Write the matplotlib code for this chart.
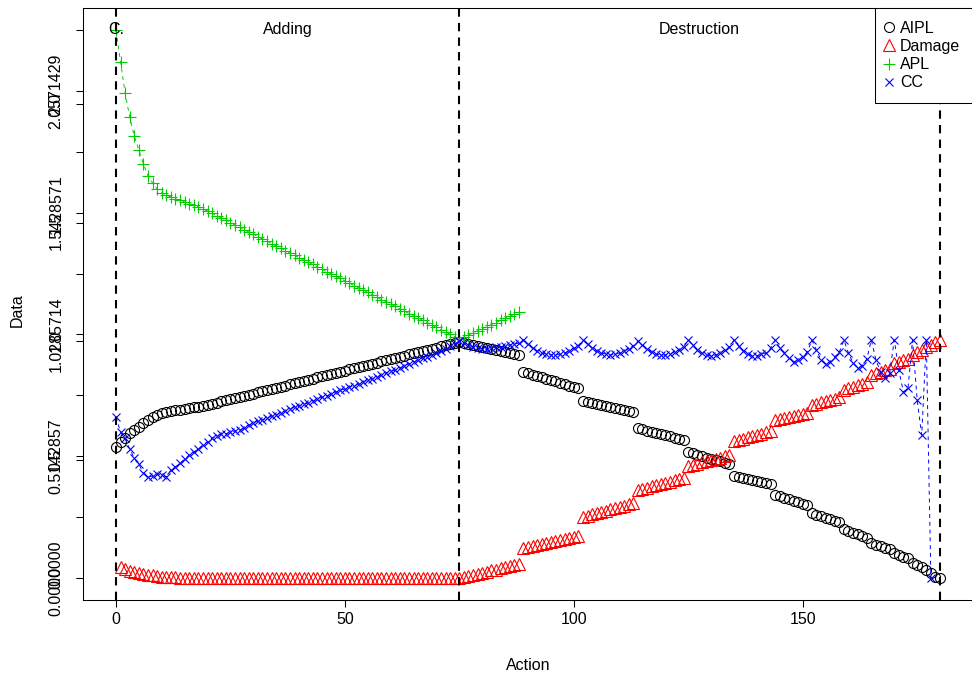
import numpy as np
import matplotlib
matplotlib.use('Agg')
import matplotlib.pyplot as plt
from matplotlib.lines import Line2D

plt.rcParams['font.family'] = ['Liberation Sans', 'DejaVu Sans']

nan = float('nan')

# AIPL, x = 0..180
aipl = [0.553, 0.574, 0.591, 0.612, 0.625, 0.638, 0.655, 0.667, 0.680,
        0.689, 0.697, 0.701, 0.704, 0.708, 0.711, 0.714, 0.718, 0.721, 0.724, 0.728, 0.731,
        0.736, 0.741, 0.746, 0.750, 0.755, 0.760, 0.765, 0.770, 0.775, 0.779,
        0.784, 0.789, 0.794, 0.799, 0.804, 0.808, 0.813, 0.818, 0.823, 0.828,
        0.833, 0.837, 0.842, 0.847, 0.852, 0.857, 0.862, 0.866, 0.871, 0.876,
        0.881, 0.886, 0.891, 0.895, 0.900, 0.905, 0.910, 0.915, 0.920, 0.924,
        0.929, 0.934, 0.939, 0.944, 0.949, 0.953, 0.958, 0.963, 0.968, 0.973,
        0.978, 0.982, 0.987, 0.992, 0.997,
        0.993, 0.988, 0.984, 0.980, 0.976, 0.972, 0.967, 0.963, 0.959, 0.955, 0.950, 0.946, 0.942,
        0.870, 0.864, 0.859, 0.853, 0.847, 0.842, 0.836, 0.830, 0.825, 0.819, 0.813, 0.808, 0.802,
        0.747, 0.743, 0.739, 0.735, 0.730, 0.726, 0.722, 0.718, 0.714, 0.709, 0.705, 0.701,
        0.633, 0.628, 0.623, 0.618, 0.613, 0.608, 0.603, 0.598, 0.593, 0.588, 0.583,
        0.532, 0.526, 0.521, 0.515, 0.509, 0.504, 0.498, 0.493, 0.487, 0.481,
        0.431, 0.427, 0.422, 0.418, 0.414, 0.410, 0.405, 0.401, 0.397,
        0.351, 0.345, 0.339, 0.333, 0.326, 0.320, 0.314, 0.308,
        0.274, 0.268, 0.262, 0.255, 0.249, 0.243, 0.236,
        0.207, 0.199, 0.192, 0.184, 0.177, 0.169,
        0.148, 0.141, 0.135, 0.128, 0.122,
        0.106, 0.099, 0.091, 0.084,
        0.063, 0.055, 0.046,
        0.034, 0.021,
        0.006, 0.000]

# Damage, x = 0..180 (no value at 0)
damage = [nan,
          0.046, 0.038, 0.030, 0.025, 0.021, 0.017, 0.013, 0.011, 0.008, 0.006, 0.005, 0.004, 0.003, 0.002,
          0.002, 0.001, 0.001, 0.001, 0.001, 0.001,
          0.0, 0.0, 0.0, 0.0, 0.0, 0.0, 0.0, 0.0, 0.0, 0.0, 0.0, 0.0, 0.0, 0.0, 0.0, 0.0, 0.0, 0.0,
          0.0, 0.0, 0.0, 0.0, 0.0, 0.0, 0.0, 0.0, 0.0, 0.0, 0.0, 0.0, 0.0, 0.0, 0.0, 0.0, 0.0, 0.0,
          0.0, 0.0, 0.0, 0.0, 0.0, 0.0, 0.0, 0.0, 0.0, 0.0, 0.0, 0.0, 0.0, 0.0, 0.0, 0.0, 0.0, 0.0,
          0.000, 0.005, 0.009, 0.014, 0.018, 0.023, 0.027, 0.032, 0.036, 0.041, 0.045, 0.050, 0.054, 0.059,
          0.127, 0.131, 0.135, 0.139, 0.144, 0.148, 0.152, 0.156, 0.160, 0.165, 0.169, 0.173, 0.177,
          0.258, 0.263, 0.269, 0.274, 0.279, 0.285, 0.290, 0.295, 0.301, 0.306, 0.312, 0.317,
          0.372, 0.377, 0.382, 0.387, 0.392, 0.397, 0.402, 0.407, 0.412, 0.417, 0.422,
          0.473, 0.478, 0.483, 0.488, 0.493, 0.499, 0.504, 0.509, 0.514, 0.519,
          0.579, 0.584, 0.589, 0.595, 0.600, 0.605, 0.610, 0.616, 0.621,
          0.667, 0.671, 0.676, 0.680, 0.684, 0.688, 0.693, 0.697,
          0.731, 0.736, 0.742, 0.747, 0.753, 0.758, 0.764,
          0.794, 0.801, 0.808, 0.814, 0.821, 0.828,
          0.857, 0.864, 0.870, 0.877, 0.883,
          0.908, 0.914, 0.919, 0.925,
          0.942, 0.953, 0.963,
          0.976, 0.984,
          0.997, 1.005]

# APL, x = 0..88
apl = [2.314, 2.179, 2.048, 1.947, 1.867, 1.807, 1.748, 1.698, 1.668, 1.643,
       1.626, 1.617, 1.609, 1.600, 1.596, 1.588, 1.579, 1.575, 1.567, 1.558, 1.550,
       1.540, 1.530, 1.520, 1.511, 1.501, 1.491, 1.481, 1.471, 1.461, 1.452,
       1.442, 1.432, 1.422, 1.412, 1.402, 1.393, 1.383, 1.373, 1.363, 1.353,
       1.343, 1.334, 1.324, 1.314, 1.304, 1.294, 1.284, 1.275, 1.265, 1.255,
       1.245, 1.235, 1.225, 1.216, 1.206, 1.196, 1.186, 1.176, 1.166, 1.157,
       1.147, 1.137, 1.127, 1.117, 1.107, 1.098, 1.088, 1.078, 1.068, 1.058,
       1.048, 1.039, 1.029, 1.019, 1.009,
       1.018, 1.027, 1.035, 1.044, 1.053, 1.062, 1.070, 1.079, 1.088, 1.097, 1.105, 1.114, 1.123]

# CC, x = 0..180 (none at 179, 180)
cc = [0.680, 0.617, 0.591, 0.545, 0.507, 0.481, 0.443, 0.427, 0.431, 0.440, 0.436,
      0.427, 0.456, 0.469, 0.485, 0.502, 0.519, 0.532, 0.545, 0.562, 0.574,
      0.591, 0.600, 0.608, 0.608, 0.617, 0.621, 0.625, 0.633, 0.646, 0.655,
      0.663, 0.667, 0.676, 0.684, 0.688, 0.697, 0.705, 0.714, 0.722, 0.726,
      0.735, 0.739, 0.747, 0.756, 0.764, 0.769, 0.777, 0.785, 0.794, 0.798,
      0.807, 0.811, 0.819, 0.828, 0.836, 0.840, 0.849, 0.857, 0.866, 0.874,
      0.878, 0.887, 0.895, 0.904, 0.912, 0.921, 0.929, 0.933, 0.942, 0.950,
      0.959, 0.967, 0.980, 0.988, 1.001,
      0.992, 0.984, 0.975, 0.971, 0.967, 0.967, 0.971, 0.975, 0.975, 0.980, 0.984, 0.988, 0.992,
      1.005, 0.988, 0.971, 0.959, 0.950, 0.946, 0.942, 0.942, 0.946, 0.950, 0.959, 0.971, 0.980,
      1.005, 0.988, 0.971, 0.959, 0.950, 0.946, 0.942, 0.946, 0.950, 0.959, 0.967, 0.980,
      1.001, 0.984, 0.967, 0.954, 0.946, 0.942, 0.942, 0.946, 0.954, 0.963, 0.975,
      1.005, 0.984, 0.963, 0.950, 0.942, 0.938, 0.942, 0.950, 0.963, 0.975,
      1.005, 0.980, 0.959, 0.946, 0.938, 0.938, 0.946, 0.950, 0.971,
      1.005, 0.971, 0.950, 0.929, 0.912, 0.921, 0.933, 0.954,
      1.005, 0.963, 0.921, 0.904, 0.912, 0.933, 0.954,
      1.005, 0.950, 0.908, 0.887, 0.895, 0.925,
      1.005, 0.921, 0.870, 0.845, 0.866,
      1.005, 0.878, 0.785, 0.802,
      1.005, 0.752, 0.604,
      1.005, 0.000,
      nan, nan]

phase_lines = [0, 75, 180]
phase_names = ['Adding', 'Destruction']
phase_mid = [37.5, 127.5]
x_ticks = [0, 50, 100, 150]

# y axis: fine ticks (only every other label fits) + default ticks
ytop = 2.31428571
fine_ticks = list(np.linspace(0, ytop, 10))
fine_labels = ['%.7f' % v if i % 2 == 0 else '' for i, v in enumerate(fine_ticks)]
std_ticks = [1e-6, 0.5, 1.0, 1.5, 2.0]
std_labels = ['0.0', '0.5', '1.0', '1.5', '2.0']

FS = 11.5
W, H = 972, 681
fig = plt.figure(figsize=(W / 100, H / 100), dpi=100)
ax = fig.add_axes([83 / W, (H - 600) / H, (973 - 83) / W, (600 - 8) / H])

x = np.arange(len(aipl))
green = '#00CD00'

mk = dict(
    AIPL=dict(marker='o', ms=7.2, mfc='none', mec='black', mew=0.8),
    Damage=dict(marker='^', ms=8, mfc='none', mec='red', mew=0.8),
    APL=dict(marker='+', ms=8.5, color=green, mew=0.8),
    CC=dict(marker='x', ms=6.3, color='blue', mew=0.8),
)

ax.plot(x, aipl, linestyle='none', **mk['AIPL'])
ax.plot(x, damage, linestyle='none', **mk['Damage'])
ax.plot(x[:len(apl)], apl, linestyle=(0, (4, 4)), lw=0.7, **mk['APL'])
ax.plot(x, cc, linestyle=(0, (4, 4)), lw=0.7, **mk['CC'])

for v in phase_lines:
    ax.axvline(v, color='black', lw=1.5, linestyle=(0, (4, 3)))

ax.text(0, ytop, 'C.', ha='center', va='center', fontsize=FS)
for name, xm in zip(phase_names, phase_mid):
    ax.text(xm, ytop, name, ha='center', va='center', fontsize=FS)

ax.set_xlim(-7.2, 187.2)
pad = ytop * 0.04
ax.set_ylim(-pad, ytop + pad)

ax.set_xticks(x_ticks)
ax.set_xticklabels([str(t) for t in x_ticks])
ax.set_yticks(fine_ticks + std_ticks)
ax.set_yticklabels(fine_labels + std_labels)
ax.tick_params(axis='both', direction='out', length=5, width=0.75, labelsize=FS)
ax.tick_params(axis='x', pad=4)
ax.tick_params(axis='y', pad=9, labelrotation=90)
for lab in ax.get_yticklabels():
    lab.set_va('center')
for s in ax.spines.values():
    s.set_linewidth(0.75)

fig.text(528 / W, 1 - 665 / H, 'Action', ha='center', va='center', fontsize=FS)
fig.text(17 / W, 1 - 310 / H, 'Data', ha='center', va='center', rotation=90, fontsize=FS)

names = ['AIPL', 'Damage', 'APL', 'CC']
handles = [Line2D([], [], linestyle='none', **mk[n]) for n in names]
leg = ax.legend(handles, names, loc='upper right',
                borderaxespad=0, fancybox=False, edgecolor='black', framealpha=1,
                fontsize=FS, handlelength=0.15, handletextpad=0.6, borderpad=0.8,
                labelspacing=0.2)
leg.get_frame().set_linewidth(0.75)

fig.savefig('out.png', dpi=100)
